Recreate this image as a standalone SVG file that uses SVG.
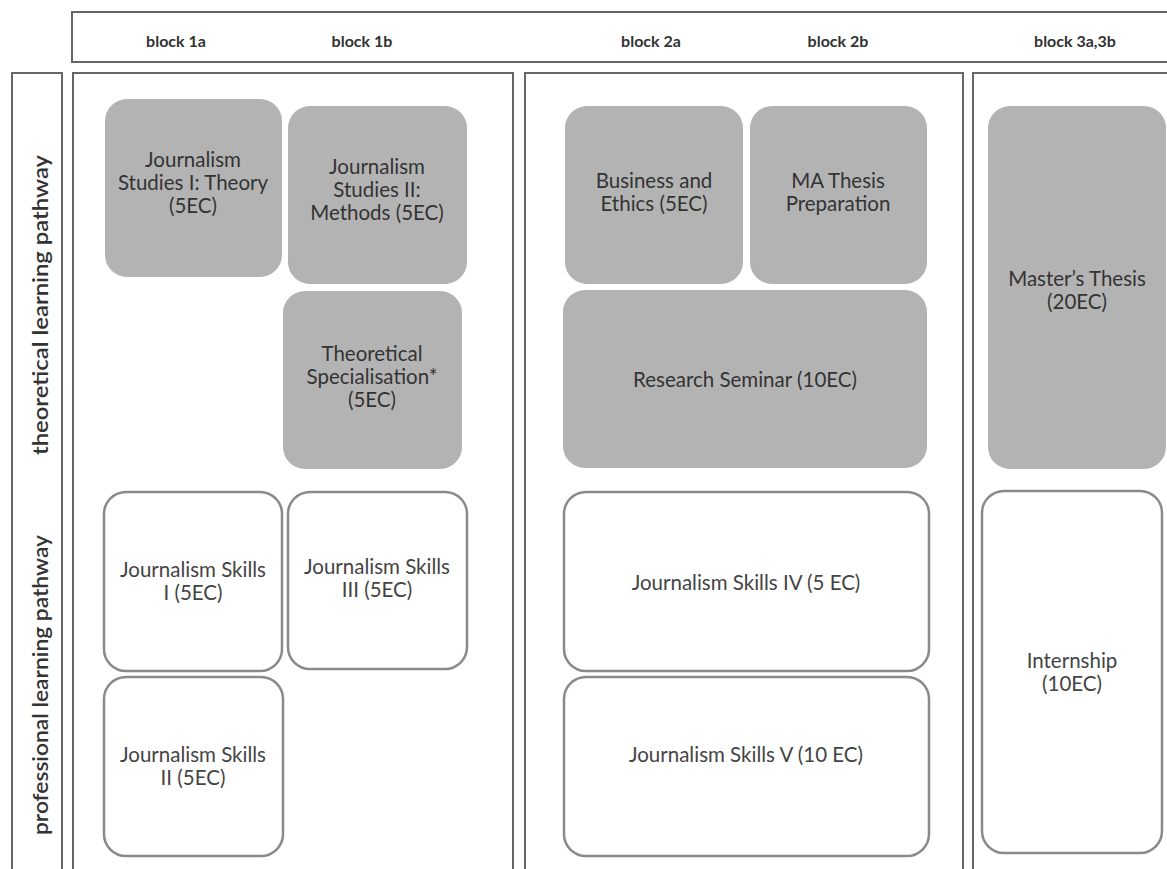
<svg xmlns="http://www.w3.org/2000/svg" width="1167" height="869" viewBox="0 0 1167 869">
<style>
.panel{fill:#fff;stroke:#666;stroke-width:2}
.g{fill:#b3b3b3;stroke:none}
.w{fill:#fff;stroke:#8a8a8a;stroke-width:2.5}
text{font-family:Lato,"Open Sans","Noto Sans",sans-serif;font-size:20.5px;fill:#333;text-anchor:middle}
.h{font-weight:bold;font-size:16px;fill:#333}
.w2{fill:#444}
.side{font-size:21px;font-weight:600;fill:#333}
</style>
<rect width="1167" height="869" fill="#fff"/>
<g id="frame">
<rect class="panel" x="72" y="12" width="1110" height="50"/>
<path class="panel" d="M12 880V73H62V880"/>
<path class="panel" d="M73 880V73H513V880"/>
<path class="panel" d="M525 880V73H963V880"/>
<path class="panel" d="M973 880V73H1180"/>
</g>
<g id="headers">
<text class="h" x="176" y="47">block 1a</text>
<text class="h" x="362" y="47">block 1b</text>
<text class="h" x="651" y="47">block 2a</text>
<text class="h" x="838" y="47">block 2b</text>
<text class="h" x="1075" y="47">block 3a,3b</text>
</g>
<g id="pathways">
<text class="side" transform="translate(48 305) rotate(-90)" textLength="300" lengthAdjust="spacingAndGlyphs">theoretical learning pathway</text>
<text class="side" transform="translate(48 685) rotate(-90)" textLength="300" lengthAdjust="spacingAndGlyphs">professional learning pathway</text>
</g>
<g id="js1">
<rect class="g" x="105" y="99" width="177" height="178" rx="22"/>
<text x="193" y="167">Journalism</text><text x="193" y="190">Studies I: Theory</text><text x="193" y="213">(5EC)</text>
</g>
<g id="js2">
<rect class="g" x="288" y="106" width="179" height="178" rx="22"/>
<text x="377" y="174">Journalism</text><text x="377" y="197">Studies II:</text><text x="377" y="220">Methods (5EC)</text>
</g>
<g id="ts">
<rect class="g" x="283" y="291" width="179" height="178" rx="22"/>
<text x="372" y="361">Theoretical</text><text x="372" y="384">Specialisation*</text><text x="372" y="407">(5EC)</text>
</g>
<g id="be">
<rect class="g" x="565" y="106" width="178" height="178" rx="22"/>
<text x="654" y="188">Business and</text><text x="654" y="211">Ethics (5EC)</text>
</g>
<g id="mtp">
<rect class="g" x="750" y="106" width="177" height="178" rx="22"/>
<text x="838" y="188">MA Thesis</text><text x="838" y="211">Preparation</text>
</g>
<g id="rs">
<rect class="g" x="563" y="290" width="364" height="178" rx="22"/>
<text x="745" y="387">Research Seminar (10EC)</text>
</g>
<g id="mt">
<rect class="g" x="988" y="106" width="178" height="363" rx="22"/>
<text x="1077" y="286">Master’s Thesis</text><text x="1077" y="309">(20EC)</text>
</g>
<g id="sk1">
<rect class="w" x="104" y="492" width="178" height="179" rx="22"/>
<text class="w2" x="193" y="577">Journalism Skills</text><text class="w2" x="193" y="600">I (5EC)</text>
</g>
<g id="sk3">
<rect class="w" x="288" y="492" width="179" height="177" rx="22"/>
<text class="w2" x="377" y="574">Journalism Skills</text><text class="w2" x="377" y="597">III (5EC)</text>
</g>
<g id="sk2">
<rect class="w" x="104" y="677" width="179" height="179" rx="22"/>
<text class="w2" x="193" y="762">Journalism Skills</text><text class="w2" x="193" y="785">II (5EC)</text>
</g>
<g id="sk4">
<rect class="w" x="564" y="492" width="365" height="179" rx="22"/>
<text class="w2" x="746" y="590">Journalism Skills IV (5 EC)</text>
</g>
<g id="sk5">
<rect class="w" x="564" y="677" width="365" height="179" rx="22"/>
<text class="w2" x="746" y="762">Journalism Skills V (10 EC)</text>
</g>
<g id="intern">
<rect class="w" x="982" y="491" width="180" height="362" rx="22"/>
<text class="w2" x="1072" y="668">Internship</text><text class="w2" x="1072" y="691">(10EC)</text>
</g>
<g id="connectors"/>
</svg>
